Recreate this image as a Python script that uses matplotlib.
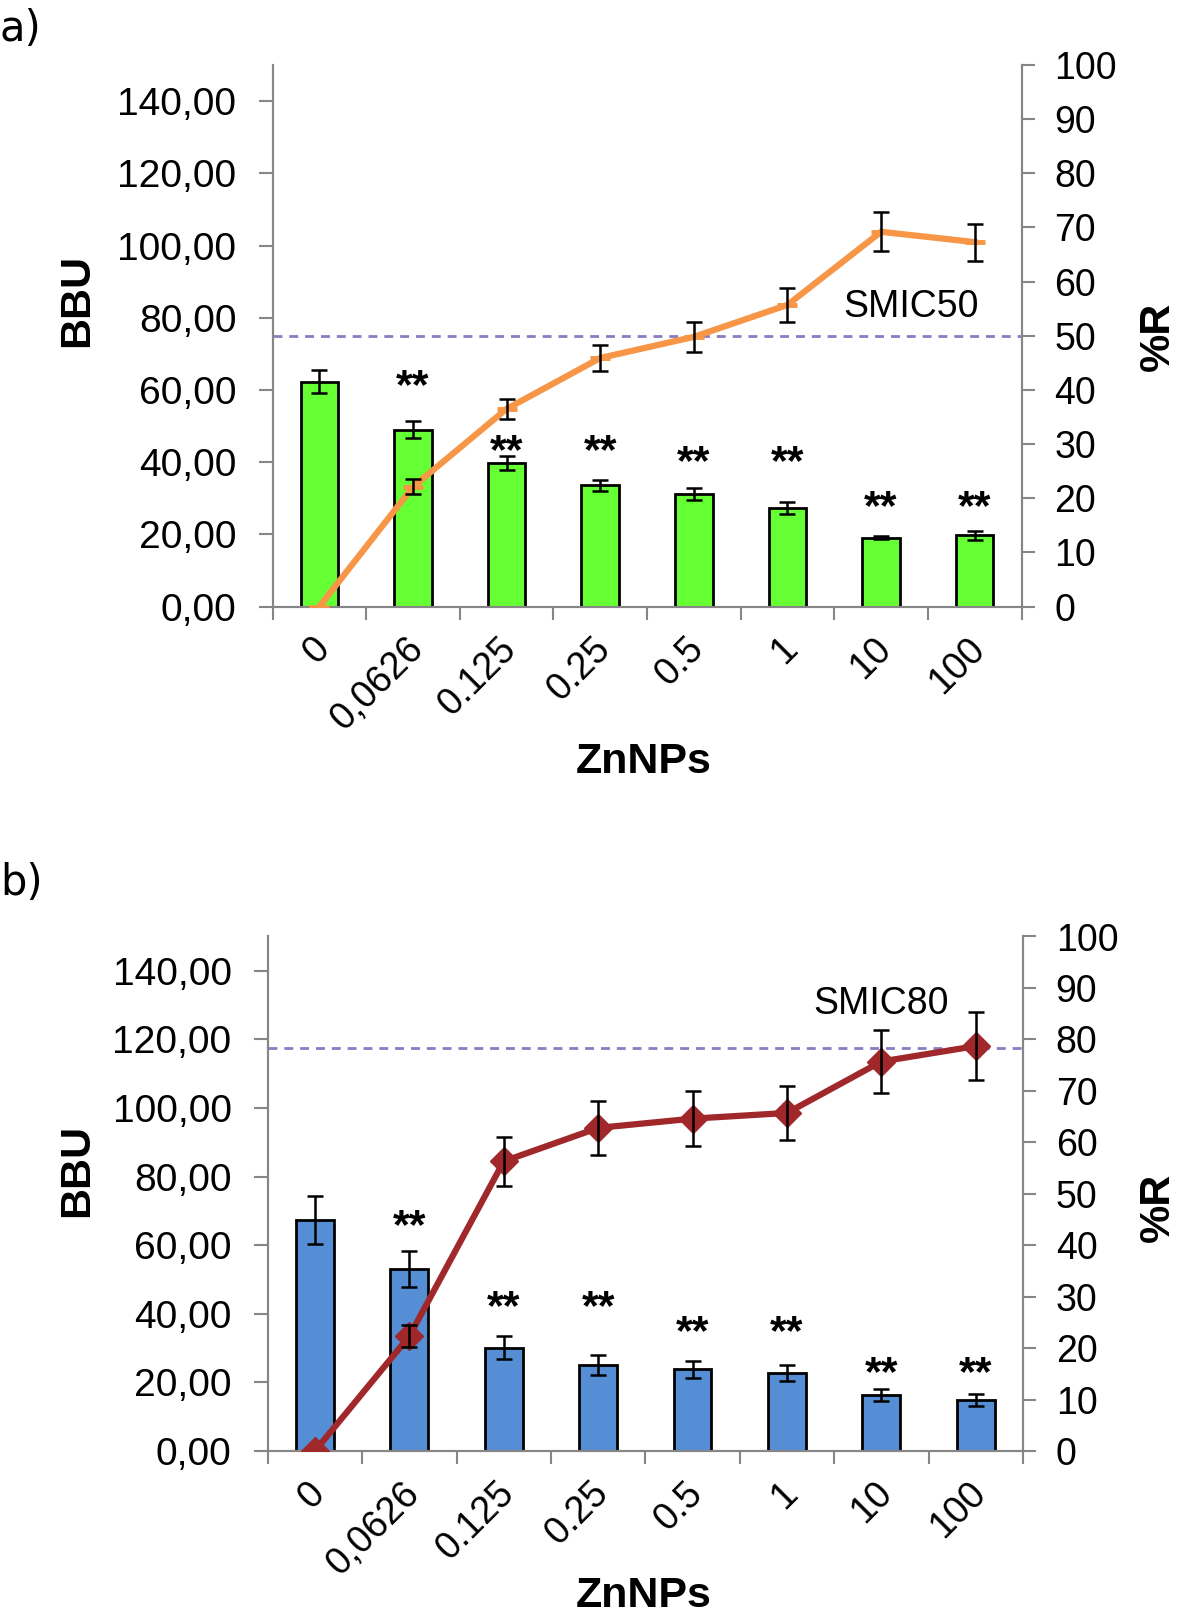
import matplotlib
matplotlib.use("Agg")
import matplotlib.pyplot as plt
import matplotlib.transforms as mtransforms
import numpy as np

plt.rcParams['font.family'] = ['Liberation Sans', 'DejaVu Sans']

categories = ["0", "0,0626", "0.125", "0.25", "0.5", "1", "10", "100"]
bbu_ticks = [0, 20, 40, 60, 80, 100, 120, 140]
bbu_ticklabels = ["0,00", "20,00", "40,00", "60,00", "80,00", "100,00", "120,00", "140,00"]
r_ticks = [0, 10, 20, 30, 40, 50, 60, 70, 80, 90, 100]

# panel a
bbu_a = [62.3, 49.0, 39.7, 33.6, 31.2, 27.3, 19.1, 19.7]
bbu_a_err = [3.1, 2.3, 2.0, 1.6, 1.6, 1.6, 0.5, 1.25]
r_a = [0.0, 22.1, 36.5, 45.9, 49.8, 55.7, 69.2, 67.3]
r_a_err = [0.0, 1.4, 1.9, 2.4, 2.7, 3.1, 3.6, 3.4]
smic_a = 50.0
smic_a_label = "SMIC50"
sig_a = ["", "**", "**", "**", "**", "**", "**", "**"]

# panel b
bbu_b = [67.3, 53.1, 30.1, 25.2, 23.8, 22.8, 16.4, 14.9]
bbu_b_err = [6.9, 5.3, 3.3, 2.9, 2.4, 2.4, 1.8, 1.7]
r_b = [0.0, 22.3, 56.3, 62.8, 64.6, 65.7, 75.7, 78.7]
r_b_err = [0.0, 2.1, 4.8, 5.2, 5.4, 5.2, 6.2, 6.6]
smic_b = 78.3
smic_b_label = "SMIC80"
sig_b = ["", "**", "**", "**", "**", "**", "**", "**"]

W, H = 1181, 1619
fig = plt.figure(figsize=(W / 100, H / 100), dpi=100)

grey = "#868686"


def fx(px):
    return px / W


def fy(py):
    return 1 - py / H


def panel(box, bbu, bbu_err, r, r_err, bar_color, line_kw, smic, smic_label,
          smic_pos, sig, sig_y, letter, letter_y, xlabel_y, bbu_y, r_y):
    l, rgt, t, b = box
    ax = fig.add_axes([fx(l), fy(b), fx(rgt) - fx(l), fy(t) - fy(b)])
    x = np.arange(len(categories))
    ax.bar(x, bbu, width=0.40, color=bar_color, edgecolor="black", linewidth=2, zorder=2)
    ax.errorbar(x, bbu, yerr=bbu_err, fmt="none", ecolor="black", elinewidth=1.8,
                capsize=6, capthick=1.8, zorder=3)
    for xi, s, yy in zip(x, sig, sig_y):
        if s:
            ax.text(xi, yy, s, ha="center", va="center", fontsize=31,
                    fontweight="bold", zorder=4)
    ax.set_xlim(-0.5, len(categories) - 0.5)
    ax.set_ylim(0, 150)
    ax.set_yticks(bbu_ticks)
    ax.set_yticklabels(bbu_ticklabels, fontsize=28)
    # category labels as rotated texts under the axis
    ax.set_xticks(x)
    ax.set_xticklabels([""] * len(categories))
    shift = mtransforms.ScaledTranslation(-0.08, -0.24, fig.dpi_scale_trans)
    for xi, lab in zip(x, categories):
        ax.text(xi, 0, lab, transform=ax.get_xaxis_transform() + shift,
                rotation=45, ha="right", va="top", rotation_mode="anchor",
                fontsize=27, clip_on=False)
    ax.set_xticks(np.arange(len(categories) + 1) - 0.5, minor=True)
    ax.tick_params(axis="x", which="major", length=0)
    ax.tick_params(axis="x", which="minor", length=9, width=1.5, color=grey,
                   direction="out")
    ax.tick_params(axis="y", length=10, width=1.5, color=grey, direction="out", pad=16)
    ax.spines["top"].set_visible(False)
    for s in ("left", "right", "bottom"):
        ax.spines[s].set_color(grey)
        ax.spines[s].set_linewidth(1.5)

    ax2 = ax.twinx()
    ax2.set_ylim(0, 100)
    ax2.set_yticks(r_ticks)
    ax2.set_yticklabels([str(t) for t in r_ticks], fontsize=27)
    ax2.tick_params(axis="y", length=9.5, width=1.5, color=grey, direction="out", pad=14)
    ax2.spines["top"].set_visible(False)
    for s in ("left", "right", "bottom"):
        ax2.spines[s].set_color(grey)
        ax2.spines[s].set_linewidth(1.5)
    ax2.axhline(smic, color="#8a7cc0", linestyle=(0, (3.2, 2.5)), linewidth=2,
                zorder=1)
    ax2.plot(x, r, zorder=3, **line_kw)
    ax2.errorbar(x[1:], r[1:], yerr=r_err[1:], fmt="none", ecolor="black",
                 elinewidth=1.8, capsize=6, capthick=1.8, zorder=4)
    ax2.text(smic_pos[0], smic_pos[1], smic_label, fontsize=27, ha="left",
             va="center", zorder=5)

    fig.text(0.0, fy(letter_y), letter, fontsize=30, ha="left", va="center",
             family=["DejaVu Sans"])
    fig.text(fx(644), fy(xlabel_y), "ZnNPs", fontsize=31, fontweight="bold",
             ha="center", va="center")
    fig.text(fx(77), fy(bbu_y), "BBU", fontsize=31, fontweight="bold", rotation=90,
             ha="center", va="center")
    fig.text(fx(1158), fy(r_y), "%R", fontsize=31, fontweight="bold", rotation=90,
             ha="center", va="center")
    return ax, ax2


# panel a: spines x 272.5..1021.5, y 65..606.6
panel((272.5, 1021.5, 65, 606.6),
      bbu_a, bbu_a_err, r_a, r_a_err, "#66ff33",
      dict(color="#f79646", linewidth=4.5, marker="_", markersize=14,
           markeredgewidth=3.5),
      smic_a, smic_a_label, (5.60, 55.4), sig_a,
      [None, 60.9, 42.7, 42.7, 39.7, 39.7, 27.3, 27.3],
      "a)", 29, 762, 300, 336)

# panel b: spines x 267.7..1023, y 936.5..1451
panel((267.7, 1023, 936.5, 1451),
      bbu_b, bbu_b_err, r_b, r_b_err, "#558ed5",
      dict(color="#a0282a", linewidth=4.5, marker="D", markersize=14,
           markerfacecolor="#a0282a", markeredgecolor="#a0282a"),
      smic_b, smic_b_label, (5.28, 86.8), sig_b,
      [None, 65.4, 41.6, 41.6, 34.5, 34.5, 22.5, 22.5],
      "b)", 883, 1596, 1170, 1207)

fig.savefig("out.png", dpi=100)
